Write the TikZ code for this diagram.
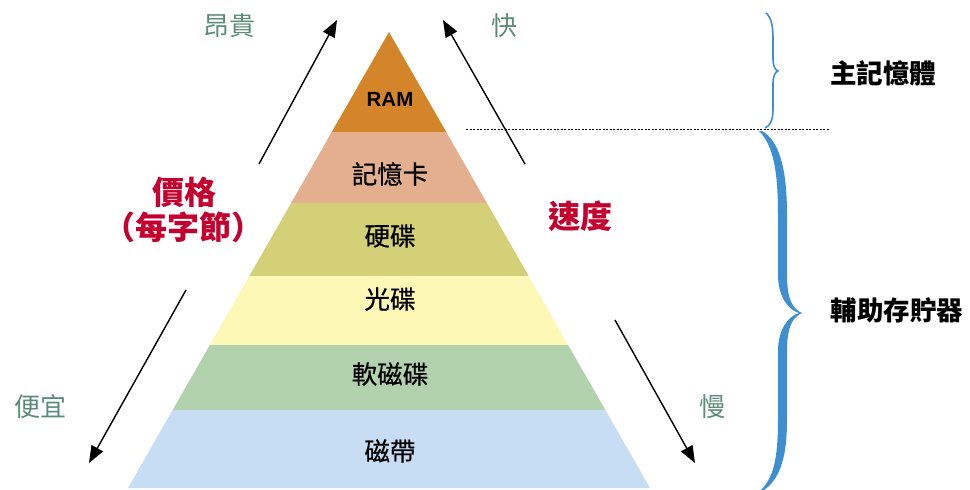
\documentclass[tikz,border=0pt]{standalone}
\usepackage{fontspec}
\setmainfont{Liberation Sans}
\newfontfamily\cjk{Noto Sans CJK TC}
\newfontfamily\cjkmed[FakeBold=0.6]{Noto Sans CJK TC}
\newfontfamily\cjkhalt[RawFeature=+halt]{Noto Sans CJK TC}
\usetikzlibrary{arrows.meta,calc}
\definecolor{ramc}{HTML}{D4852A}
\definecolor{cardc}{HTML}{E4AF8F}
\definecolor{hddc}{HTML}{D4D078}
\definecolor{cdc}{HTML}{FDF8B5}
\definecolor{fddc}{HTML}{B2D2AE}
\definecolor{tapec}{HTML}{C6DDF3}
\definecolor{softgreen}{HTML}{5B8C7A}
\definecolor{redtxt}{HTML}{C4002E}
\definecolor{bracec}{HTML}{3D8FD1}
\tikzset{
  lbl/.style={font=\cjkmed\fontsize{25.5}{25.5}\selectfont, inner sep=0pt},
  soft/.style={font=\cjk\fontsize{26}{26}\selectfont, text=softgreen, inner sep=0pt},
  redlbl/.style={font=\cjk\bfseries\fontsize{32}{36}\selectfont, text=redtxt, inner sep=0pt, align=center},
  sidelbl/.style={font=\cjk\bfseries\fontsize{26.5}{26.5}\selectfont, inner sep=0pt},
  arr/.style={-{Triangle[length=17pt,width=13pt]}, line width=1.4pt},
}
\begin{document}
\begin{tikzpicture}[x=1pt,y=-1pt]
\useasboundingbox (0,0) rectangle (970,490);
\coordinate (A) at (389,32);
\coordinate (L) at (128,488);
\coordinate (R) at (650,488);
% layers
\fill[ramc] (A) -- ($(A)!0.2193!(L)$) -- ($(A)!0.2193!(R)$) -- cycle;
\fill[cardc] ($(A)!0.2193!(L)$) -- ($(A)!0.375!(L)$) -- ($(A)!0.375!(R)$) -- ($(A)!0.2193!(R)$) -- cycle;
\fill[hddc] ($(A)!0.375!(L)$) -- ($(A)!0.5351!(L)$) -- ($(A)!0.5351!(R)$) -- ($(A)!0.375!(R)$) -- cycle;
\fill[cdc] ($(A)!0.5351!(L)$) -- ($(A)!0.6864!(L)$) -- ($(A)!0.6864!(R)$) -- ($(A)!0.5351!(R)$) -- cycle;
\fill[fddc] ($(A)!0.6864!(L)$) -- ($(A)!0.8289!(L)$) -- ($(A)!0.8289!(R)$) -- ($(A)!0.6864!(R)$) -- cycle;
\fill[tapec] ($(A)!0.8289!(L)$) -- (L) -- (R) -- ($(A)!0.8289!(R)$) -- cycle;
% layer labels
\node[inner sep=0pt, font=\bfseries\fontsize{20.5}{20.5}\selectfont] (ram) at (390,99) {RAM};
\node[lbl] (card) at (390,174) {記憶卡};
\node[lbl] (hdd) at (390,236) {硬碟};
\node[lbl] (cd) at (390,299) {光碟};
\node[lbl] (fdd) at (390,374) {軟磁碟};
\node[lbl] (tape) at (390,451) {磁帶};
% arrows
\coordinate (pu1) at (259,164);
\coordinate (pu2) at (337,20);
\coordinate (su1) at (525,164);
\coordinate (su2) at (443,20);
\coordinate (pd1) at (186,290);
\coordinate (pd2) at (89,463);
\coordinate (sd1) at (615,320);
\coordinate (sd2) at (695,463);
\draw[arr] (pu1) -- (pu2);
\draw[arr] (su1) -- (su2);
\draw[arr] (pd1) -- (pd2);
\draw[arr] (sd1) -- (sd2);
% soft labels
\node[soft] (expensive) at (229,26) {昂貴};
\node[soft] (fast) at (504,26) {快};
\node[soft] (cheap) at (40,407) {便宜};
\node[soft] (slow) at (712,407) {慢};
% red labels
\node[redlbl] (price) at (184,192) {價格};
\node[redlbl, font=\cjkhalt\bfseries\fontsize{32}{36}\selectfont] (perbyte) at (183,227) {（每字節）};
\node[redlbl] (speed) at (580,216) {速度};
% dashed separator
\coordinate (d1) at (466,129);
\coordinate (d2) at (830,129);
\draw[line width=0.9pt, dash pattern=on 2pt off 1.5pt] (d1) -- (d2);
% braces
\draw[bracec, line width=1.6pt] (766,13) .. controls (772,18) and (773,28) .. (773,40)
  -- (773,58) .. controls (773,66) and (775,70) .. (778,71)
  .. controls (775,72) and (773,76) .. (773,84)
  -- (773,110) .. controls (773,120) and (770,126) .. (765,128);
\fill[bracec] (762,131) .. controls (778,140) and (787,165) .. (787,215)
  -- (787,275) .. controls (787,300) and (793,309) .. (802,313)
  .. controls (793,317) and (787,326) .. (787,351)
  -- (787,420) .. controls (787,462) and (778,480) .. (764,490)
  -- (761,490) .. controls (773,478) and (778,460) .. (778,420)
  -- (778,351) .. controls (778,330) and (788,316) .. (799,313)
  .. controls (788,310) and (778,296) .. (778,275)
  -- (778,215) .. controls (778,170) and (773,145) .. (759,131) -- cycle;
% side labels
\node[sidelbl] (mainmem) at (883,73) {主記憶體};
\node[sidelbl] (auxmem) at (897,310) {輔助存貯器};
\end{tikzpicture}
\end{document}
